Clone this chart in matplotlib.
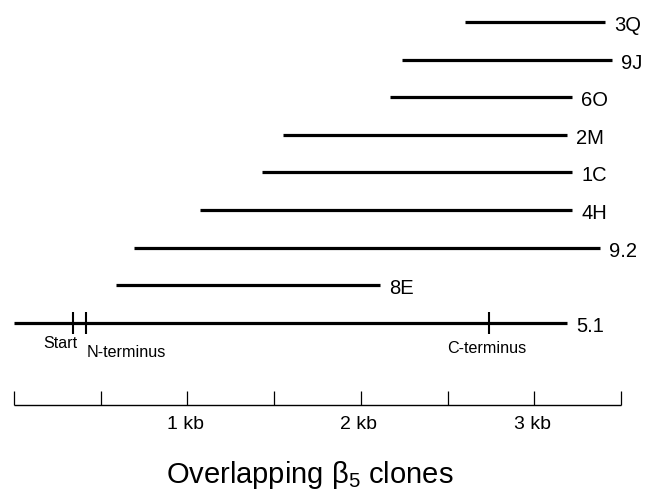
import matplotlib
matplotlib.use("Agg")
import matplotlib.pyplot as plt

plt.rcParams['font.family'] = ['Liberation Sans', 'DejaVu Sans']
plt.rcParams['mathtext.fontset'] = 'custom'
plt.rcParams['mathtext.rm'] = 'Liberation Sans'
plt.rcParams['mathtext.it'] = 'Liberation Sans'

# ---- data (kb) ----
clones = ['3Q', '9J', '6O', '2M', '1C', '4H', '9.2', '8E', '5.1']
clone_start = [2.60, 2.24, 2.17, 1.55, 1.43, 1.07, 0.69, 0.59, 0.00]
clone_end = [3.41, 3.45, 3.22, 3.19, 3.22, 3.22, 3.38, 2.11, 3.19]

site_names = ['Start', 'N-terminus', 'C-terminus']
site_pos = [0.34, 0.415, 2.74]

scale_ticks = [0.0, 0.5, 1.0, 1.5, 2.0, 2.5, 3.0, 3.5]
scale_labels = ['1 kb', '2 kb', '3 kb']
scale_label_pos = [1.0, 2.0, 3.0]

title = r'Overlapping β$\mathregular{_5}$ clones'

# ---- layout ----
W, H, DPI = 656, 494, 100
px_per_kb = 173.4
x0_px = 14
row_top, row_gap = 22, 37.6
scale_y = 405

fig = plt.figure(figsize=(W / DPI, H / DPI), dpi=DPI)
ax = fig.add_axes([0, 0, 1, 1])
ax.set_xlim(-x0_px / px_per_kb, (W - x0_px) / px_per_kb)
ax.set_ylim(H, 0)
ax.axis('off')

rows = [row_top + row_gap * i for i in range(len(clones))]

# clone lines
ax.hlines(rows, clone_start, clone_end, colors='black', linewidth=2.3)
for name, e, y in zip(clones, clone_end, rows):
    ax.annotate(name, xy=(e, y), xytext=(9, -9), textcoords='offset pixels',
                ha='left', va='baseline', fontsize=14.5)

# sites on clone 5.1
base_y = rows[-1]
ax.vlines(site_pos, base_y - 11, base_y + 11, colors='black', linewidth=1.5)
site_ha = ['right', 'left', 'center']
site_dx = [4, 1, -2]
site_dy = [-25, -34, -30]
for name, p, ha, dx, dy in zip(site_names, site_pos, site_ha, site_dx, site_dy):
    ax.annotate(name, xy=(p, base_y), xytext=(dx, dy), textcoords='offset pixels',
                ha=ha, va='baseline', fontsize=11.6)

# scale bar
ax.hlines(scale_y, scale_ticks[0], scale_ticks[-1], colors='black', linewidth=1.0)
ax.vlines(scale_ticks, scale_y - 14, scale_y, colors='black', linewidth=0.9)
for lab, p in zip(scale_labels, scale_label_pos):
    ax.annotate(lab, xy=(p, scale_y), xytext=(-2, -24), textcoords='offset pixels',
                ha='center', va='baseline', fontsize=14)

fig.text(310 / W, 1 - 483 / H, title, ha='center', va='baseline', fontsize=21)

fig.savefig('out.png', dpi=DPI)
